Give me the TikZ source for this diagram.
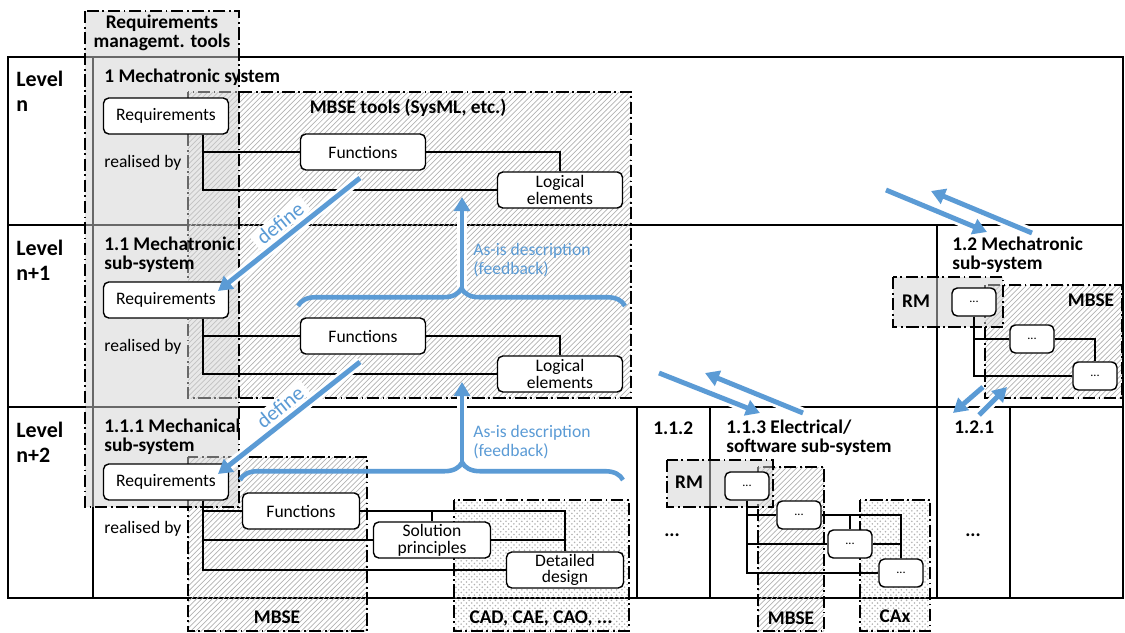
\documentclass[tikz,border=0pt]{standalone}
\usepackage{fontspec}
\setmainfont{Carlito}
\usepackage{xcolor}
\usetikzlibrary{calc, arrows.meta, patterns, decorations.pathreplacing}
\definecolor{asblue}{RGB}{91,155,213}

\tikzset{
    box/.style={draw, line width=0.8pt, rounded corners=3pt, fill=white, align=center,
        minimum width=2.5cm, minimum height=0.72cm, inner sep=1pt,
        font=\fontsize{10}{9.5}\selectfont},
    box3/.style={box, minimum width=2.34cm},
    sbox/.style={box, minimum width=0.88cm, minimum height=0.56cm, font=\fontsize{7}{8}\selectfont},
    head/.style={font=\bfseries\fontsize{11}{10.3}\selectfont, align=left, anchor=north west, inner sep=0pt},
    lvl/.style={font=\bfseries\fontsize{12.5}{14}\selectfont, align=left, anchor=north west, inner sep=0pt},
    tool/.style={font=\bfseries\fontsize{11}{10.8}\selectfont, align=center, inner sep=0pt},
    txt/.style={font=\fontsize{10}{11}\selectfont, anchor=base west, inner sep=0pt},
    toolbox/.style={line width=0.8pt, dash pattern=on 7pt off 2pt on 1pt off 2pt},
    hatch/.style={toolbox, pattern=north east lines, pattern color=gray!60},
    dotfill/.style={toolbox, pattern=crosshatch dots, pattern color=gray!60},
    rmbox/.style={toolbox, fill=black!18, fill opacity=0.5},
    link/.style={line width=0.8pt},
    flow/.style={draw=asblue, line width=2.8pt, -{Triangle[length=8pt,width=9pt]}},
    halo/.style={draw=white, line width=6pt, shorten >=7pt},
    feedback/.style={draw=asblue, line width=2.6pt, decorate, decoration={brace, amplitude=10pt, aspect=#1}},
    feedback/.default=0.5,
    note/.style={text=asblue, font=\fontsize{10}{10.8}\selectfont, align=left, anchor=north west, inner sep=0pt},
    deflbl/.style={text=asblue, fill=white, font=\fontsize{12}{13}\selectfont, inner xsep=3pt, inner ysep=1pt, rotate=39}
}

\begin{document}
\begin{tikzpicture}[x=0.02cm, y=-0.02cm]
    \useasboundingbox (0,0) rectangle (1125,632);

    % 1. Level table
    \draw[link] (8,57) rectangle (1123,598);
    \draw[link] (93,57) -- (93,598);
    \draw[link] (8,225) -- (1123,225);
    \draw[link] (8,407) -- (1123,407);
    \draw[link] (937,225) -- (937,598);
    \foreach \x in {637,710,1010} {
        \draw[link] (\x,407) -- (\x,598);
    }

    % 2. Tool areas
    \draw[hatch] (188,92) rectangle (631,398);
    \draw[hatch] (188,457) rectangle (367,631);
    \draw[dotfill] (454,500) rectangle (629,631);
    \draw[hatch] (758,467) rectangle (824,631);
    \draw[dotfill] (860,500) rectangle (930,631);
    \draw[hatch] (985,285) rectangle (1122,398);
    \draw[rmbox] (85,11) rectangle (239,507);
    \draw[rmbox] (667,460) rectangle (773,507);
    \draw[rmbox] (893,277) rectangle (1003,327);

    \node[tool, anchor=north] (rmt) at (162,15) {Requirements\\managemt. tools};
    \node[tool, anchor=base] (mbt) at (408,113) {MBSE tools (SysML, etc.)};
    \node[tool, anchor=base] (mb3) at (277,623) {MBSE};
    \node[tool, anchor=base] (cad) at (541,623) {CAD, CAE, CAO, ...};
    \node[tool, anchor=base] (mbe) at (791,624) {MBSE};
    \node[tool, anchor=base] (cax) at (895,622) {CAx};
    \node[tool, anchor=base] (rme) at (689,488) {RM};
    \node[tool, anchor=base] (rmm) at (916,307) {RM};
    \node[tool, anchor=base] (mbm) at (1091,306) {MBSE};

    % 3. Levels and systems
    \node[lvl] (lvn) at (16,71) {Level\\n};
    \node[lvl] (lvn1) at (16,240) {Level\\n+1};
    \node[lvl] (lvn2) at (16,422) {Level\\n+2};

    \node[head] (s1) at (104,69) {1 Mechatronic system};
    \node[head] (s11) at (104,237) {1.1 Mechatronic\\sub-system};
    \node[head] (s111) at (104,419) {1.1.1 Mechanical\\sub-system};
    \node[head] (s112) at (653,421) {1.1.2};
    \node[head] (s113) at (726,420) {1.1.3 Electrical/\\software sub-system};
    \node[head] (s12) at (952,237) {1.2 Mechatronic\\sub-system};
    \node[head] (s121) at (954,420) {1.2.1};
    \node[head, anchor=base] (x112) at (672,536) {...};
    \node[head, anchor=base] (x121) at (973,536) {...};

    % 4. Requirements -> functions -> logical elements
    \foreach \i/\y in {1/0, 2/184} {
        \node[box] (req\i) at (166,116+\y) {Requirements};
        \node[box] (fun\i) at (363,152+\y) {Functions};
        \node[box] (log\i) at (560,190+\y) {Logical\\elements};
        \node[txt] (rb\i) at (104,167+\y) {realised by};
        \draw[link] ($(req\i.south east)+(-26,0)$) |- (log\i.west);
        \draw[link] ($(req\i.south east)+(-26,0)$) |- (fun\i.west);
        \draw[link] (fun\i.east) -| (log\i.north);
    }

    % 5. Mechanical sub-system
    \node[box] (req3) at (166,482) {Requirements};
    \node[box3] (fun3) at (301,511) {Functions};
    \node[box3] (sol3) at (432,540) {Solution\\principles};
    \node[box3] (det3) at (565,570) {Detailed\\design};
    \node[txt] (rb3) at (104,533) {realised by};
    \coordinate (j3) at ($(req3.south east)+(-26,0)$);
    \draw[link] (j3) |- (det3.west);
    \draw[link] (j3) |- (sol3.west);
    \draw[link] (j3) |- (fun3.west);
    \draw[link] (fun3.east) -| (det3.north);
    \draw[link] (sol3.north |- fun3.east) -- (sol3.north);
    \draw[link] (sol3.east) -- (sol3.east -| det3.north);

    % 6. Electrical/software sub-system
    \node[sbox] (el1) at (747,486) {...};
    \node[sbox] (el2) at (799,515) {...};
    \node[sbox] (el3) at (850,544) {...};
    \node[sbox] (el4) at (901,573) {...};
    \draw[link] (el1.south) |- (el4.west);
    \draw[link] (el1.south) |- (el3.west);
    \draw[link] (el1.south) |- (el2.west);
    \draw[link] (el2.east) -| (el4.north);
    \draw[link] (el3.north |- el2.east) -- (el3.north);
    \draw[link] (el3.east) -- (el3.east -| el4.north);

    % 7. Mechatronic sub-system 1.2
    \node[sbox] (ms1) at (974,302) {...};
    \node[sbox] (ms2) at (1032,339) {...};
    \node[sbox] (ms3) at (1095,376) {...};
    \draw[link] (ms1.south) |- (ms3.west);
    \draw[link] (ms1.south) |- (ms2.west);
    \draw[link] (ms2.east) -| (ms3.north);

    % 8. Blue arrows
    \coordinate (df1) at (360,178);  \coordinate (dt1) at (218,291);
    \coordinate (df2) at (360,362);  \coordinate (dt2) at (218,474);
    \coordinate (fb1) at (462,289);  \coordinate (ft1) at (462,197);
    \coordinate (fb2) at (462,463);  \coordinate (ft2) at (462,382);
    \coordinate (a1) at (886,190);   \coordinate (a2) at (987,232);
    \coordinate (b1) at (1032,233);  \coordinate (b2) at (931,191);
    \coordinate (c1) at (659,373);   \coordinate (c2) at (760,413);
    \coordinate (d1) at (803,413);   \coordinate (d2) at (705,373);
    \coordinate (g1) at (983,387);   \coordinate (g2) at (953,413);
    \coordinate (h1) at (979,415);   \coordinate (h2) at (1007,387);

    \foreach \s/\e in {df1/dt1, df2/dt2, fb1/ft1, fb2/ft2, a1/a2, b1/b2, c1/c2, d1/d2, g1/g2, h1/h2} {
        \draw[halo] (\s) -- (\e);
    }
    \draw[feedback] (298,306) -- (625,306);
    \draw[feedback=0.58] (240,480) -- (623,480);
    \foreach \s/\e in {df1/dt1, df2/dt2, fb1/ft1, fb2/ft2, a1/a2, b1/b2, c1/c2, d1/d2, g1/g2, h1/h2} {
        \draw[flow] (\s) -- (\e);
    }

    \node[deflbl] (def1) at (280,223) {define};
    \node[deflbl] (def2) at (280,407) {define};
    \node[note] (asis1) at (473,243) {As-is description\\(feedback)};
    \node[note] (asis2) at (473,425) {As-is description\\(feedback)};
\end{tikzpicture}
\end{document}
